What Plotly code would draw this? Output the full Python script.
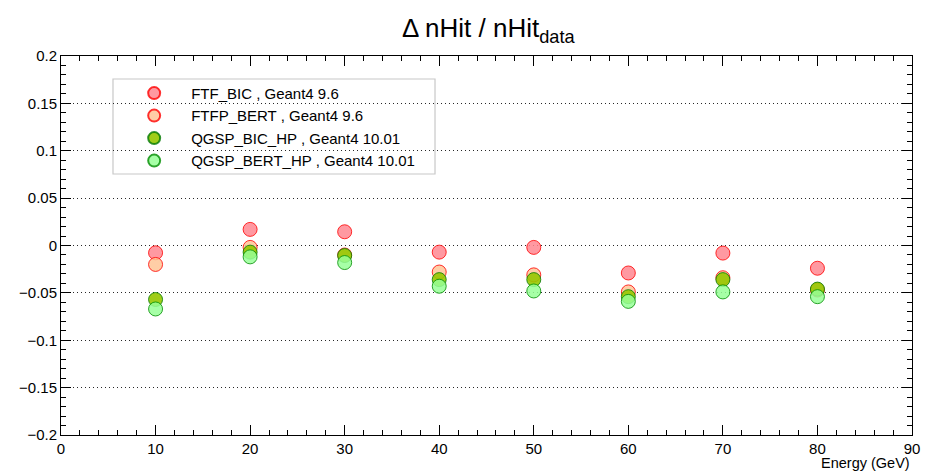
import plotly.graph_objects as go

energy = [10, 20, 30, 40, 50, 60, 70, 80]
ftf_bic = [-0.0077, 0.017, 0.0145, -0.007, -0.002, -0.029, -0.008, -0.024]
ftfp_bert = [-0.020, -0.002, -0.010, -0.028, -0.031, -0.049, -0.034, -0.047]
qgsp_bic_hp = [-0.057, -0.007, -0.0106, -0.036, -0.036, -0.054, -0.036, -0.046]
qgsp_bert_hp = [-0.067, -0.012, -0.018, -0.043, -0.048, -0.059, -0.049, -0.054]

series = [
    ("FTF_BIC , Geant4 9.6", ftf_bic, "rgba(255,135,145,0.85)", "rgba(255,0,0,0.8)"),
    ("FTFP_BERT , Geant4 9.6", ftfp_bert, "rgba(255,198,150,0.85)", "rgba(255,0,0,0.8)"),
    ("QGSP_BIC_HP , Geant4 10.01", qgsp_bic_hp, "rgba(150,200,0,0.9)", "rgba(0,120,0,0.8)"),
    ("QGSP_BERT_HP , Geant4 10.01", qgsp_bert_hp, "rgba(150,255,150,0.85)", "rgba(0,140,0,0.8)"),
]

fig = go.Figure()
for name, vals, fill, line in series:
    fig.add_trace(go.Scatter(
        x=energy, y=vals, mode="markers", name=name,
        marker=dict(size=14, color=fill, line=dict(color=line, width=1)),
    ))

font = "Liberation Sans, Arial, Helvetica, sans-serif"
fig.add_hline(y=0, line=dict(color="rgb(90,90,255)", width=1.2))

fig.update_layout(
    width=939, height=471,
    margin=dict(l=61, r=27, t=56, b=36),
    paper_bgcolor="white", plot_bgcolor="white",
    font=dict(family=font, size=15, color="black"),
    title=dict(text="Δ nHit / nHit<sub>data</sub>", x=0.52, xanchor="center",
               y=0.94, yanchor="middle", font=dict(size=26, family=font)),
    showlegend=True,
    legend=dict(x=0.066, y=0.945, xanchor="left", yanchor="top",
                bgcolor="rgba(0,0,0,0)", borderwidth=0,
                font=dict(size=15, family=font), tracegroupgap=0,
                itemsizing="constant", itemwidth=64),
    shapes=[dict(type="rect", xref="paper", yref="paper",
                 x0=0.0611, x1=0.4395, y0=0.6887, y1=0.9393,
                 line=dict(color="rgb(200,200,200)", width=1.2),
                 fillcolor="white", layer="below")],
    annotations=[dict(text="Energy (GeV)", xref="paper", yref="paper",
                      x=1.0, y=0, xanchor="right", yanchor="top", yshift=-18,
                      showarrow=False, font=dict(size=14.5, family=font))],
)

fig.update_xaxes(range=[0, 90], tickmode="linear", tick0=0, dtick=10,
                 ticks="inside", ticklen=10, tickcolor="black",
                 showline=True, linecolor="black", linewidth=1, mirror="ticks",
                 showgrid=False, zeroline=False,
                 minor=dict(ticks="inside", ticklen=5, dtick=2, tickcolor="black", showgrid=False),
                 tickfont=dict(size=15, family=font))
fig.update_yaxes(range=[-0.2, 0.2], tickmode="linear", tick0=-0.2, dtick=0.05,
                 ticks="inside", ticklen=10, tickcolor="black",
                 showline=True, linecolor="black", linewidth=1, mirror="ticks",
                 showgrid=True, gridcolor="rgb(40,40,40)", griddash="1px,3px", gridwidth=1,
                 zeroline=False,
                 minor=dict(ticks="inside", ticklen=5, dtick=0.01, tickcolor="black", showgrid=False),
                 tickfont=dict(size=15, family=font))

fig.write_html("out.html")
